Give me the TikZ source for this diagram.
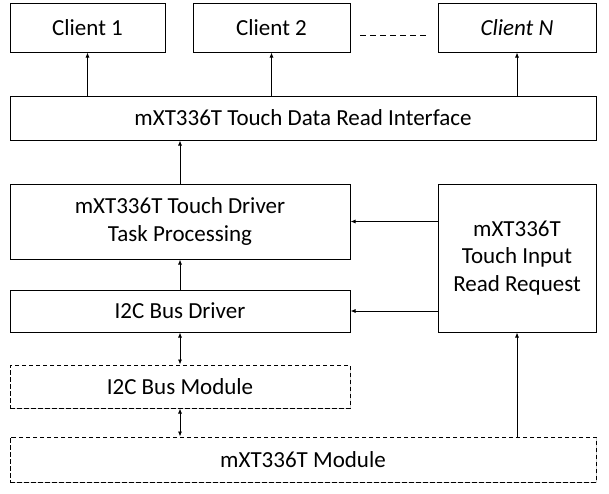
\documentclass[tikz,border=0pt]{standalone}
\usepackage{fontspec}
\setmainfont{Carlito}
\usetikzlibrary{arrows.meta,shadows}
\begin{document}
\begin{tikzpicture}[x=1pt,y=-1pt,
  box/.style={draw=black,line width=1pt,fill=white,inner sep=0pt,
    drop shadow={shadow xshift=1.2pt,shadow yshift=-1.2pt,opacity=0.25,fill=black!60},
    font=\fontsize{23}{27.5}\selectfont,align=center},
  dbox/.style={box,dash pattern=on 4.5pt off 2.5pt},
  conn/.style={line width=0.8pt,-{Latex[length=5pt,width=4pt]}},
  biconn/.style={line width=0.8pt,{Latex[length=5pt,width=4pt]}-{Latex[length=5pt,width=4pt]}}]
\useasboundingbox (0,0) rectangle (609,493);
\path[fill=white] (0,0) rectangle (609,493);
% boxes
\node[box,minimum width=155pt,minimum height=49pt] (c1) at (87.5,27.5) {Client 1};
\node[box,minimum width=157pt,minimum height=49pt] (c2) at (271.5,27.5) {Client 2};
\node[box,minimum width=158pt,minimum height=49pt] (cn) at (517,27.5) {\itshape Client N};
\node[box,minimum width=586pt,minimum height=44pt] (iface) at (303,118) {mXT336T Touch Data Read Interface};
\node[box,minimum width=340pt,minimum height=75pt] (task) at (180,221.5) {mXT336T Touch Driver\\Task Processing};
\node[box,minimum width=158pt,minimum height=148pt] (req) at (517,258) {mXT336T\\Touch Input\\Read Request};
\node[box,minimum width=340pt,minimum height=42pt] (bus) at (180,311) {I2C Bus Driver};
\node[dbox,minimum width=340pt,minimum height=43pt] (busmod) at (180,386.5) {I2C Bus Module};
\node[dbox,minimum width=586pt,minimum height=45pt] (mod) at (303,459.5) {mXT336T Module};
% dashed separator
\coordinate (d1) at (360,35);
\coordinate (d2) at (428,35);
\draw[line width=0.8pt,dash pattern=on 6pt off 4pt] (d1) -- (d2);
% connectors
\draw[conn] (iface.north -| c1) -- (c1.south);
\draw[conn] (iface.north -| c2) -- (c2.south);
\draw[conn] (iface.north -| cn) -- (cn.south);
\draw[conn] (task.north) -- (task.north |- iface.south);
\draw[conn] (bus.north) -- (task.south);
\draw[conn] (req.west |- task) -- (task.east);
\draw[conn] (req.west |- bus) -- (bus.east);
\draw[biconn] (bus.south) -- (busmod.north);
\draw[biconn] (busmod.south) -- (busmod.south |- mod.north);
\draw[conn] (mod.north -| req) -- (req.south);
\end{tikzpicture}
\end{document}
